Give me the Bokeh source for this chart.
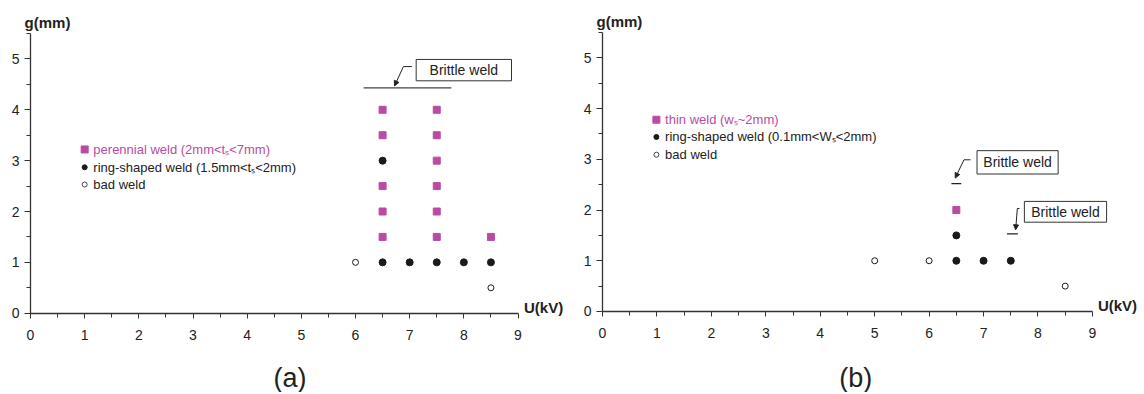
from bokeh.plotting import figure
from bokeh.layouts import row
from bokeh.models import Range1d, FixedTicker, Label, Arrow, NormalHead
from bokeh.embed import file_html
from bokeh.resources import INLINE

# ---- data: panel (a) ----
a_perennial_x = [6.5, 6.5, 6.5, 6.5, 6.5, 7.5, 7.5, 7.5, 7.5, 7.5, 7.5, 8.5]
a_perennial_y = [1.5, 2.0, 2.5, 3.5, 4.0, 1.5, 2.0, 2.5, 3.0, 3.5, 4.0, 1.5]
a_ring_x = [6.5, 6.5, 7.0, 7.5, 8.0, 8.5]
a_ring_y = [1.0, 3.0, 1.0, 1.0, 1.0, 1.0]
a_bad_x = [6.0, 8.5]
a_bad_y = [1.0, 0.5]

# ---- data: panel (b) ----
b_thin_x = [6.5]
b_thin_y = [2.0]
b_ring_x = [6.5, 6.5, 7.0, 7.5]
b_ring_y = [1.0, 1.5, 1.0, 1.0]
b_bad_x = [5.0, 6.0, 8.5]
b_bad_y = [1.0, 1.0, 0.5]

x_ticks = [0, 1, 2, 3, 4, 5, 6, 7, 8, 9]
x_minor = [0.5, 1.5, 2.5, 3.5, 4.5, 5.5, 6.5, 7.5, 8.5]
y_ticks = [0, 1, 2, 3, 4, 5]
y_minor = [0.5, 1.5, 2.5, 3.5, 4.5, 5.5]

a_legend = ["perennial weld (2mm<tₛ<7mm)", "ring-shaped weld (1.5mm<tₛ<2mm)", "bad weld"]
b_legend = ["thin weld (wₛ~2mm)", "ring-shaped weld (0.1mm<Wₛ<2mm)", "bad weld"]

PINK = "#b94ca2"
DARK = "#1a1a1a"
AXIS = "#333333"
FONT = "Liberation Sans"
H = 392


def base(width, xr, yr):
    p = figure(width=width, height=H, output_backend="svg", toolbar_location=None,
               x_range=Range1d(*xr), y_range=Range1d(*yr), title=None,
               min_border_left=0, min_border_right=0, min_border_top=0,
               min_border_bottom=0)
    p.outline_line_color = None
    p.grid.visible = False
    p.background_fill_color = "white"
    p.border_fill_color = "white"
    p.xaxis.ticker = FixedTicker(ticks=x_ticks, minor_ticks=x_minor)
    p.yaxis.ticker = FixedTicker(ticks=y_ticks, minor_ticks=y_minor)
    p.xaxis.fixed_location = 0
    p.yaxis.fixed_location = 0
    p.xaxis.bounds = (0, 9)
    p.yaxis.bounds = (0, 5.5)
    for ax in (p.xaxis, p.yaxis):
        ax.axis_line_color = AXIS
        ax.axis_line_width = 1.3
        ax.major_tick_line_color = AXIS
        ax.minor_tick_line_color = AXIS
        ax.major_tick_in = 0
        ax.minor_tick_in = 0
        ax.major_label_text_font = FONT
        ax.major_label_text_font_size = "14px"
        ax.major_label_text_color = "#222222"
    p.xaxis.major_tick_out = 5
    p.xaxis.minor_tick_out = 4
    p.xaxis.major_label_standoff = 12
    p.yaxis.major_tick_out = 6
    p.yaxis.minor_tick_out = 4
    p.yaxis.major_label_standoff = 5
    return p


def common_labels(p, gx, gy, ux, uy, tag, tx, ty):
    p.add_layout(Label(x=gx, y=gy, text="g(mm)", text_font=FONT, text_font_size="15px",
                       text_font_style="bold", text_color="#222222", text_baseline="middle"))
    p.add_layout(Label(x=ux, y=uy, text="U(kV)", text_font=FONT, text_font_size="15px",
                       text_font_style="bold", text_color="#222222", text_baseline="middle"))
    p.add_layout(Label(x=tx, y=ty, text=tag, text_font=FONT, text_font_size="27px",
                       text_color="#222222", text_baseline="middle", text_align="center"))


def legend(p, lx, ly, texts):
    p.scatter([lx], [ly[0]], marker="square", size=7, fill_color=PINK, line_color=PINK)
    p.scatter([lx], [ly[1]], marker="circle", size=5, fill_color=DARK, line_color=DARK)
    p.scatter([lx], [ly[2]], marker="circle", size=5, fill_color="white", line_color=DARK, line_width=0.8)
    cols = [PINK, "#222222", "#222222"]
    for yy, t, c in zip(ly, texts, cols):
        p.add_layout(Label(x=lx + 0.16, y=yy, text=t, text_font=FONT, text_font_size="13px",
                           text_color=c, text_baseline="middle"))


def brittle_box(p, x0, x1, y0, y1):
    p.quad(left=[x0], right=[x1], bottom=[y0], top=[y1], fill_color="white",
           line_color="#333333", line_width=1)
    p.add_layout(Label(x=(x0 + x1) / 2, y=(y0 + y1) / 2, text="Brittle weld", text_font=FONT,
                       text_font_size="14px", text_color="#222222", text_baseline="middle",
                       text_align="center"))


def arrow(p, x0, y0, x1, y1):
    p.add_layout(Arrow(end=NormalHead(size=5, fill_color="#222222", line_color="#222222"),
                       x_start=x0, y_start=y0, x_end=x1, y_end=y1,
                       line_color="#222222", line_width=1))


# ---------- panel (a) ----------
pa = base(570, (-0.554, 9.969), (-1.559, 6.149))
pa.scatter(a_perennial_x, a_perennial_y, marker="square", size=7, fill_color=PINK, line_color=PINK)
pa.scatter(a_ring_x, a_ring_y, marker="circle", size=7, fill_color=DARK, line_color=DARK)
pa.scatter(a_bad_x, a_bad_y, marker="circle", size=6, fill_color="white", line_color=DARK, line_width=1)
legend(pa, 1.0, [3.22, 2.87, 2.53], a_legend)
pa.line([6.15, 7.77], [4.43, 4.43], line_color="#444444", line_width=1.2)
pa.line([7.04, 6.885], [4.85, 4.85], line_color="#222222", line_width=1)
arrow(pa, 6.885, 4.85, 6.72, 4.47)
brittle_box(pa, 7.12, 8.88, 4.57, 4.99)
common_labels(pa, -0.11, 5.72, 9.11, 0.12, "(a)", 4.79, -1.28)

# ---------- panel (b) ----------
pb = base(570, (-0.588, 9.883), (-1.597, 6.130))
pb.scatter(b_thin_x, b_thin_y, marker="square", size=7, fill_color=PINK, line_color=PINK)
pb.scatter(b_ring_x, b_ring_y, marker="circle", size=7, fill_color=DARK, line_color=DARK)
pb.scatter(b_bad_x, b_bad_y, marker="circle", size=6, fill_color="white", line_color=DARK, line_width=1)
legend(pb, 0.99, [3.78, 3.44, 3.09], b_legend)
pb.line([6.41, 6.59], [2.52, 2.52], line_color="#222222", line_width=1.2)
pb.line([6.76, 6.64], [2.99, 2.99], line_color="#222222", line_width=1)
arrow(pb, 6.64, 2.99, 6.48, 2.63)
brittle_box(pb, 6.88, 8.37, 2.71, 3.17)
pb.line([7.43, 7.63], [1.53, 1.53], line_color="#222222", line_width=1.2)
pb.line([7.66, 7.62], [2.03, 2.03], line_color="#222222", line_width=1)
arrow(pb, 7.62, 2.03, 7.59, 1.61)
brittle_box(pb, 7.75, 9.26, 1.76, 2.17)
common_labels(pb, -0.11, 5.72, 9.1, 0.12, "(b)", 4.65, -1.32)

layout = row(pa, pb)
open("out.html", "w").write(file_html(layout, INLINE))
